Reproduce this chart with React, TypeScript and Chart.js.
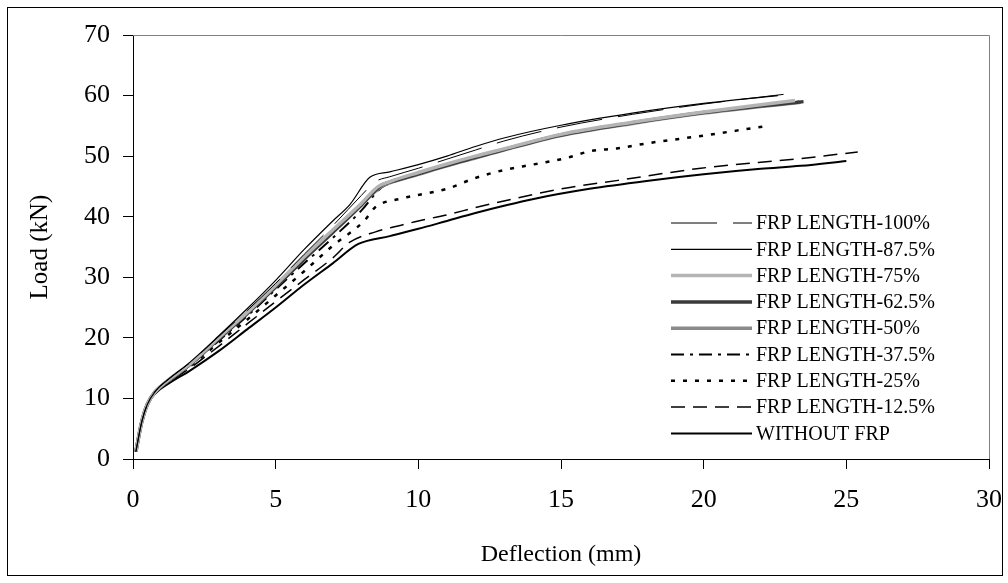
import { useEffect, useRef } from "react";
import { Chart, registerables } from "chart.js";

Chart.register(...registerables);

const xTickValues = [0, 5, 10, 15, 20, 25, 30];
const yTickValues = [0, 10, 20, 30, 40, 50, 60, 70];

const seriesLabels = [
  "FRP LENGTH-100%",
  "FRP LENGTH-87.5%",
  "FRP LENGTH-75%",
  "FRP LENGTH-62.5%",
  "FRP LENGTH-50%",
  "FRP LENGTH-37.5%",
  "FRP LENGTH-25%",
  "FRP LENGTH-12.5%",
  "WITHOUT FRP",
];

const frp100 = [[0.1,1.2],[0.3,6],[0.5,9],[0.8,11.3],[1.2,13],[2,15.9],[3,20.2],[4,24.5],[5,29],[6,33.8],[7,38.5],[8,43.5],[8.5,45.8],[9,46.6],[10,48],[11,49.5],[12,51],[13,52.5],[15,54.8],[17.5,56.9],[20,58.6],[22.8,60.2]];
const frp875 = [[0.1,1.2],[0.3,6],[0.5,9],[0.8,11.3],[1.2,13],[2,16],[3,20.3],[4,24.8],[5,29.5],[6,34.6],[7,39.3],[7.6,42],[8.3,46.5],[9,47.4],[10,48.6],[11,50],[12,51.6],[13,53],[15,55.1],[17.5,57.1],[20,58.7],[22.6,60]];
const frp75 = [[0.1,1.2],[0.3,6],[0.5,9],[0.8,11.2],[1.2,12.9],[2,15.7],[3,20],[4,24.2],[5,28.7],[6,33.4],[7,37.8],[8,42.2],[8.6,45],[9,45.8],[10,47.3],[11,48.7],[12,50],[13,51.2],[15,53.6],[17.5,55.6],[20,57.3],[23.2,59.2]];
const frp625 = [[0.1,1.2],[0.3,6],[0.5,9],[0.8,11.2],[1.2,12.8],[2,15.6],[3,19.8],[4,24],[5,28.4],[6,33],[7,37.4],[8,41.9],[8.7,45.2],[9,45.7],[10,47.1],[11,48.5],[12,49.8],[13,51.1],[15,53.5],[17.5,55.5],[20,57.2],[23.5,59]];
const frp50 = [[0.1,1.2],[0.3,6],[0.5,9],[0.8,11.2],[1.2,12.8],[2,15.6],[3,19.9],[4,24.1],[5,28.5],[6,33.1],[7,37.5],[8,42],[8.7,45],[9,45.6],[10,47],[11,48.4],[12,49.7],[13,51],[15,53.4],[17.5,55.4],[20,57.1],[23.4,58.9]];
const frp375 = [[0.1,1.2],[0.3,6],[0.5,9],[0.8,11.1],[1.2,12.7],[2,15.5],[3,19.5],[4,23.6],[5,28],[6,32.3],[7,36.5],[8,41],[8.7,44.8],[9,45.5],[10,47],[11,48.4],[12,49.8],[13,51.1],[15,53.5],[17.5,55.5],[20,57.2],[23.5,59.1]];
const frp25 = [[0.1,1.2],[0.3,6],[0.5,9],[0.8,11],[1.2,12.6],[2,15.3],[3,19.2],[4,23],[5,27],[6,31],[7,35.2],[8.1,39.3],[8.5,41.6],[9.4,43],[10,43.6],[11,44.6],[12,46.4],[13,47.7],[14,48.6],[15.2,49.7],[16,50.8],[17,51.3],[18,52.1],[20,53.4],[22.1,54.9]];
const frp125 = [[0.1,1.2],[0.3,6],[0.5,9],[0.8,11],[1.2,12.5],[2,15],[3,18.6],[4,22.3],[5,26],[6,29.6],[7,33.2],[7.6,35.8],[8.5,37.5],[9.4,38.6],[10,39.3],[11,40.3],[12,41.5],[13,42.6],[15,44.6],[17,46],[19.9,48],[22,49],[23.4,49.6],[25.4,50.7]];
const withoutFrp = [[0.1,1.2],[0.3,6],[0.5,9],[0.8,10.9],[1.2,12.3],[2,14.6],[3,17.8],[4,21.4],[5,25],[6,28.8],[7,32.3],[7.9,35.5],[9,36.8],[10,38],[11,39.3],[12,40.6],[13,41.8],[14,42.9],[16,44.6],[18,45.9],[20,47],[22,47.9],[23.4,48.4],[25,49.2]];

const seriesData = [frp100, frp875, frp75, frp625, frp50, frp375, frp25, frp125, withoutFrp];

const seriesStyles = [
  { color: "#000000", width: 1, dash: [46, 16] },
  { color: "#000000", width: 1.2, dash: [] },
  { color: "#b4b4b4", width: 3.5, dash: [] },
  { color: "#3a3a3a", width: 3.5, dash: [] },
  { color: "#8a8a8a", width: 3.5, dash: [] },
  { color: "#000000", width: 2, dash: [13, 6, 3, 6] },
  { color: "#000000", width: 2.5, dash: [4, 8] },
  { color: "#000000", width: 1.5, dash: [14, 8] },
  { color: "#000000", width: 2, dash: [] },
];

const FONT = "'Liberation Serif', 'Times New Roman', serif";

const framePlugin = {
  id: "framePlugin",
  afterDraw(chart: any) {
    const { ctx, chartArea } = chart;
    ctx.save();
    ctx.strokeStyle = "#000";
    ctx.lineWidth = 1;
    ctx.strokeRect(7.5, 7.5, 995, 568);
    ctx.strokeStyle = "#808080";
    ctx.beginPath();
    ctx.moveTo(chartArea.left, chartArea.top + 0.5);
    ctx.lineTo(chartArea.right + 0.5, chartArea.top + 0.5);
    ctx.lineTo(chartArea.right + 0.5, chartArea.bottom);
    ctx.stroke();
    ctx.restore();
  },
};

const legendPlugin = {
  id: "customLegend",
  afterDraw(chart: any) {
    const { ctx } = chart;
    ctx.save();
    chart.data.datasets.forEach((ds: any, i: number) => {
      const y = 223 + i * 26.3;
      ctx.strokeStyle = ds.borderColor;
      ctx.lineWidth = ds.borderWidth;
      ctx.setLineDash(ds.borderDash || []);
      ctx.beginPath();
      ctx.moveTo(671, y);
      ctx.lineTo(752, y);
      ctx.stroke();
      ctx.setLineDash([]);
      ctx.fillStyle = "#000";
      ctx.font = `20px ${FONT}`;
      ctx.textBaseline = "middle";
      ctx.textAlign = "left";
      ctx.fillText(ds.label, 756, y + 1);
    });
    ctx.restore();
  },
};

export default function App() {
  const ref = useRef<HTMLCanvasElement | null>(null);
  useEffect(() => {
    if (!ref.current) return;
    const chart = new Chart(ref.current, {
      type: "line",
      data: {
        datasets: seriesData.map((pts, i) => ({
          label: seriesLabels[i],
          data: pts.map(([x, y]) => ({ x, y })),
          borderColor: seriesStyles[i].color,
          borderWidth: seriesStyles[i].width,
          borderDash: seriesStyles[i].dash,
          pointRadius: 0,
          fill: false,
          cubicInterpolationMode: "monotone",
        })),
      },
      options: {
        responsive: false,
        animation: false,
        layout: { padding: { left: 0, top: 35, right: 19, bottom: 0 } },
        plugins: { legend: { display: false }, tooltip: { enabled: false } },
        scales: {
          x: {
            type: "linear",
            min: 0,
            max: 30,
            afterBuildTicks(scale: any) {
              scale.ticks = xTickValues.map((v) => ({ value: v }));
            },
            afterFit(scale: any) {
              scale.height = 124;
              scale.paddingLeft = 0;
              scale.paddingRight = 0;
            },
            ticks: {
              color: "#000",
              font: { family: FONT, size: 26 },
              padding: 16,
              maxRotation: 0,
              autoSkip: false,
            },
            grid: { drawOnChartArea: false, drawTicks: true, tickLength: 10, color: "#000" },
            border: { color: "#000", width: 1 },
            title: {
              display: true,
              text: "Deflection (mm)",
              color: "#000",
              font: { family: FONT, size: 24 },
              padding: { top: 0, bottom: 14 },
            },
          },
          y: {
            type: "linear",
            min: 0,
            max: 70,
            afterBuildTicks(scale: any) {
              scale.ticks = yTickValues.map((v) => ({ value: v }));
            },
            afterFit(scale: any) {
              scale.width = 133;
              scale.paddingTop = 0;
              scale.paddingBottom = 0;
            },
            ticks: {
              color: "#000",
              font: { family: FONT, size: 26 },
              padding: 13,
              autoSkip: false,
            },
            grid: { drawOnChartArea: false, drawTicks: true, tickLength: 10, color: "#000" },
            border: { color: "#000", width: 1 },
            title: {
              display: true,
              text: "Load (kN)",
              color: "#000",
              font: { family: FONT, size: 25 },
              padding: { top: 25, bottom: 0 },
            },
          },
        },
      },
      plugins: [framePlugin, legendPlugin],
    } as any);
    return () => chart.destroy();
  }, []);
  return (
    <div style={{ position: "absolute", left: 0, top: 0, width: 1008, height: 583, background: "#fff" }}>
      <canvas ref={ref} width={1008} height={583} />
    </div>
  );
}
